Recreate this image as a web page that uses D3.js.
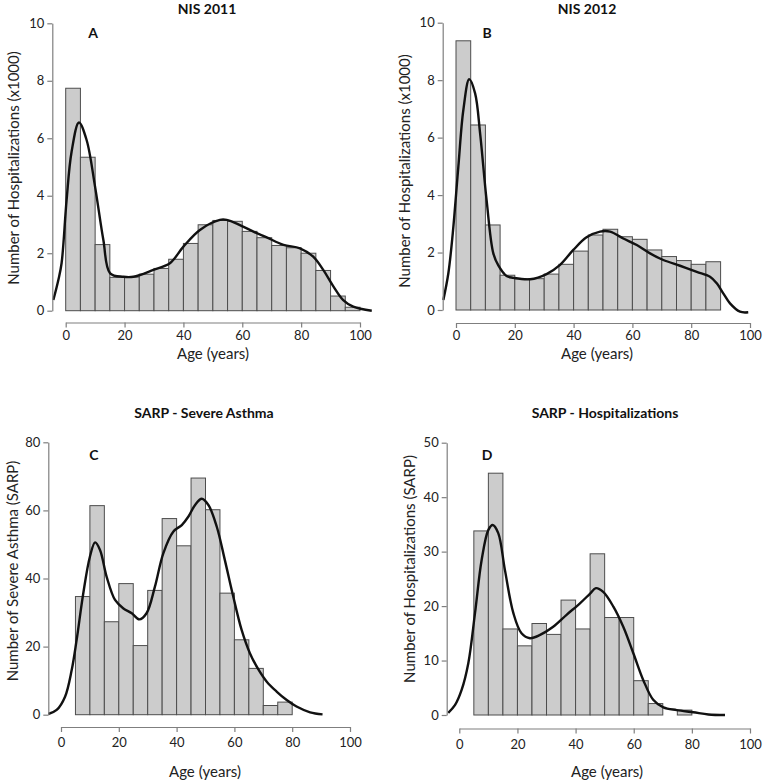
<!DOCTYPE html>
<html>
<head>
<meta charset="utf-8">
<script src="https://cdn.jsdelivr.net/npm/d3@7"></script>
<style>
  html, body { margin: 0; padding: 0; background: #fff; }
  svg { display: block; }
  text { font-family: Lato, "Open Sans", sans-serif; }
</style>
</head>
<body>
<svg id="chart" width="763" height="781"></svg>
<script>
// ---------- DATA ----------
const binWidth = 5;

// Panel A: NIS 2011 (x1000), bins start at age 0
const binStartA = [0,5,10,15,20,25,30,35,40,45,50,55,60,65,70,75,80,85,90,95];
const countsA   = [7.74,5.34,2.30,1.16,1.17,1.27,1.47,1.79,2.34,2.99,3.14,3.11,2.76,2.54,2.27,2.19,2.0,1.40,0.51,0.12];
const densAgeA  = [-4.2,-2.5,-1.4,0.3,2.0,4.5,7.1,10,12.8,15.1,19.6,23,29.8,35.4,40,45.6,52.4,54.7,59.2,63.8,68.3,74,79.6,84.1,87.5,91,94.3,97.7,104];
const densValA  = [0.37,1.07,1.65,3.85,5.53,6.55,5.94,4.3,2.46,1.30,1.18,1.18,1.42,1.65,2.23,2.81,3.16,3.16,2.98,2.75,2.55,2.29,2.17,1.88,1.42,0.84,0.37,0.14,0.0];

// Panel B: NIS 2012 (x1000)
const binStartB = [0,5,10,15,20,25,30,35,40,45,50,55,60,65,70,75,80,85];
const countsB   = [9.37,6.44,2.96,1.21,1.09,1.09,1.25,1.59,2.05,2.61,2.81,2.55,2.46,2.09,1.86,1.72,1.59,1.68];
const densAgeB  = [-4.3,-2.6,-1.1,0.8,2.5,4.5,6.5,8.2,10.4,12.7,14.4,17.2,19.5,25.2,30.8,35.4,39.9,44.4,49,52.4,56.9,61.5,66,70.5,76.2,81.9,86.4,88.7,90.9,93.2,96.6,99.4];
const densValB  = [0.35,1.28,2.67,4.99,6.96,8.03,7.54,6.15,3.83,1.97,1.55,1.18,1.12,1.07,1.25,1.57,2.09,2.53,2.73,2.73,2.49,2.26,1.97,1.74,1.54,1.33,1.16,0.93,0.58,0.23,-0.06,-0.08];

// Panel C: SARP - Severe Asthma
const binStartC = [5,10,15,20,25,30,35,40,45,50,55,60,65,70,75];
const countsC   = [34.7,61.4,27.3,38.5,20.3,36.5,57.6,49.6,69.5,60.2,35.7,22.0,13.6,2.7,3.7];
const densAgeC  = [-4.4,-1.5,1.4,3.7,5.4,7.7,10,11.8,13.5,15.8,18.7,21.6,24.5,27.1,29.6,32.5,35.4,38.9,41.8,44.1,46.4,48.7,51,53.9,56.7,59.6,62.5,65.4,68.3,71.2,74.6,78.1,81.5,86.2,90.5];
const densValC  = [0.2,1.4,5.3,13.1,21.9,35.6,46.4,50.6,48.4,40.5,33.7,31.2,29.8,28.0,29.8,37.6,47.4,53.8,55.7,58.2,61.6,63.4,61.6,55.2,45.4,34.7,24.9,18.0,13.3,9.7,6.8,4.3,2.4,0.7,0.1];

// Panel D: SARP - Hospitalizations
const binStartD = [5,10,15,20,25,30,35,40,45,50,55,60,65,70,75];
const countsD   = [33.8,44.4,15.8,12.7,16.8,14.8,21.1,15.8,29.6,17.9,17.9,6.3,2.1,0,0.9];
const densAgeD  = [-3.8,-1.5,0.8,3.1,5.4,7.7,10,11.5,13.4,15.7,18.6,21.4,24.3,27.8,32.3,36.9,41.5,45,47,49.5,53,56.4,59.9,63.3,66.7,70.2,74.8,80.5,85.7,91.4];
const densValD  = [0.4,1.8,4.6,9.5,18.7,28.5,34.0,34.9,33.4,26.6,18.7,15.0,14.1,14.7,16.2,18.4,20.5,22.3,23.3,22.6,19.9,16.2,11.3,6.4,2.8,1.4,0.9,0.5,0.1,0];

// Axis ticks / labels
const xTicks = [0,20,40,60,80,100];
const yTicksNIS = [0,2,4,6,8,10];
const yTicksC = [0,20,40,60,80];
const yTicksD = [0,10,20,30,40,50];

const titles = ["NIS 2011","NIS 2012","SARP - Severe Asthma","SARP - Hospitalizations"];
const letters = ["A","B","C","D"];
const yLabels = ["Number of Hospitalizations (x1000)","Number of Hospitalizations (x1000)","Number of Severe Asthma (SARP)","Number of Hospitalizations (SARP)"];
const xLabel = "Age (years)";

// ---------- LAYOUT ----------
const panels = [
  { bins: binStartA, counts: countsA, dAge: densAgeA, dVal: densValA, yTicks: yTicksNIS, yMax: 10,
    x0: 65.7, x1: 360, yBot: 310.7, yTop: 23.3, yAxisX: 52.3, xAxisY: 322.5, xPad: 3,
    titleX: 207, titleY: 14, letterX: 93, letterY: 38, yLabX: 13, yLabY: 168, xLabX: 213, xLabY: 359 },
  { bins: binStartB, counts: countsB, dAge: densAgeB, dVal: densValB, yTicks: yTicksNIS, yMax: 10,
    x0: 456, x1: 750, yBot: 310, yTop: 22.7, yAxisX: 442.7, xAxisY: 323, xPad: 3,
    titleX: 587, titleY: 14, letterX: 487, letterY: 38, yLabX: 404, yLabY: 171, xLabX: 597, xLabY: 359 },
  { bins: binStartC, counts: countsC, dAge: densAgeC, dVal: densValC, yTicks: yTicksC, yMax: 80,
    x0: 61, x1: 350, yBot: 714.7, yTop: 442.3, yAxisX: 48.3, xAxisY: 727, xPad: 6,
    titleX: 204, titleY: 418, letterX: 94, letterY: 460, yLabX: 12, yLabY: 571, xLabX: 205, xLabY: 777 },
  { bins: binStartD, counts: countsD, dAge: densAgeD, dVal: densValD, yTicks: yTicksD, yMax: 50,
    x0: 459.3, x1: 750, yBot: 715, yTop: 442.7, yAxisX: 446.7, xAxisY: 728.5, xPad: 6,
    titleX: 605, titleY: 418, letterX: 487, letterY: 460, yLabX: 409, yLabY: 569, xLabX: 607, xLabY: 777 }
];

const svg = d3.select("#chart");
const axisColor = "#7f7f7f";

panels.forEach((p, i) => {
  const g = svg.append("g");
  const x = d3.scaleLinear().domain([0, 100]).range([p.x0, p.x1]);
  const y = d3.scaleLinear().domain([0, p.yMax]).range([p.yBot, p.yTop]);

  // bars
  g.selectAll("rect.bar").data(p.bins.map((b, k) => ({ b, v: p.counts[k] })).filter(d => d.v > 0))
    .enter().append("rect")
    .attr("x", d => x(d.b))
    .attr("width", d => x(d.b + binWidth) - x(d.b))
    .attr("y", d => y(d.v))
    .attr("height", d => y(0) - y(d.v))
    .attr("fill", "#cccccc")
    .attr("stroke", "#4d4d4d")
    .attr("stroke-width", 1);

  // density curve
  const pts = p.dAge.map((a, k) => [a, p.dVal[k]]);
  const line = d3.line().x(d => x(d[0])).y(d => y(d[1])).curve(d3.curveCatmullRom.alpha(0.5));
  g.append("path").datum(pts).attr("d", line)
    .attr("fill", "none").attr("stroke", "#111").attr("stroke-width", 2.4)
    .attr("stroke-linejoin", "round");

  // y axis
  const ya = g.append("g").attr("transform", `translate(${p.yAxisX},0)`)
    .call(d3.axisLeft(y).tickValues(p.yTicks).tickSizeOuter(0).tickSizeInner(5).tickPadding(3).tickFormat(d3.format("d")));
  ya.select(".domain").attr("stroke", axisColor).attr("stroke-width", 1.2);
  ya.selectAll(".tick line").attr("stroke", axisColor).attr("stroke-width", 1.2);
  ya.selectAll(".tick text").attr("font-family", "Lato, sans-serif").attr("font-size", 13).attr("fill", "#222");

  // x axis
  const xa = g.append("g").attr("transform", `translate(0,${p.xAxisY})`)
    .call(d3.axisBottom(x).tickValues(xTicks).tickSizeOuter(0).tickSizeInner(5).tickPadding(p.xPad).tickFormat(d3.format("d")));
  xa.select(".domain").attr("stroke", axisColor).attr("stroke-width", 1.2);
  xa.selectAll(".tick line").attr("stroke", axisColor).attr("stroke-width", 1.2);
  xa.selectAll(".tick text").attr("font-family", "Lato, sans-serif").attr("font-size", 13).attr("fill", "#222");

  // titles & labels
  g.append("text").attr("x", p.titleX).attr("y", p.titleY).attr("text-anchor", "middle")
    .attr("font-size", 14).attr("font-weight", "bold").attr("fill", "#111").text(titles[i]);
  g.append("text").attr("x", p.letterX).attr("y", p.letterY).attr("text-anchor", "middle")
    .attr("font-size", 14).attr("font-weight", "bold").attr("fill", "#111").text(letters[i]);
  g.append("text").attr("transform", `translate(${p.yLabX},${p.yLabY}) rotate(-90)`)
    .attr("text-anchor", "middle").attr("dominant-baseline", "central")
    .attr("font-size", 15).attr("fill", "#222").text(yLabels[i]);
  g.append("text").attr("x", p.xLabX).attr("y", p.xLabY).attr("text-anchor", "middle")
    .attr("font-size", 15).attr("fill", "#222").text(xLabel);
});
</script>
</body>
</html>
